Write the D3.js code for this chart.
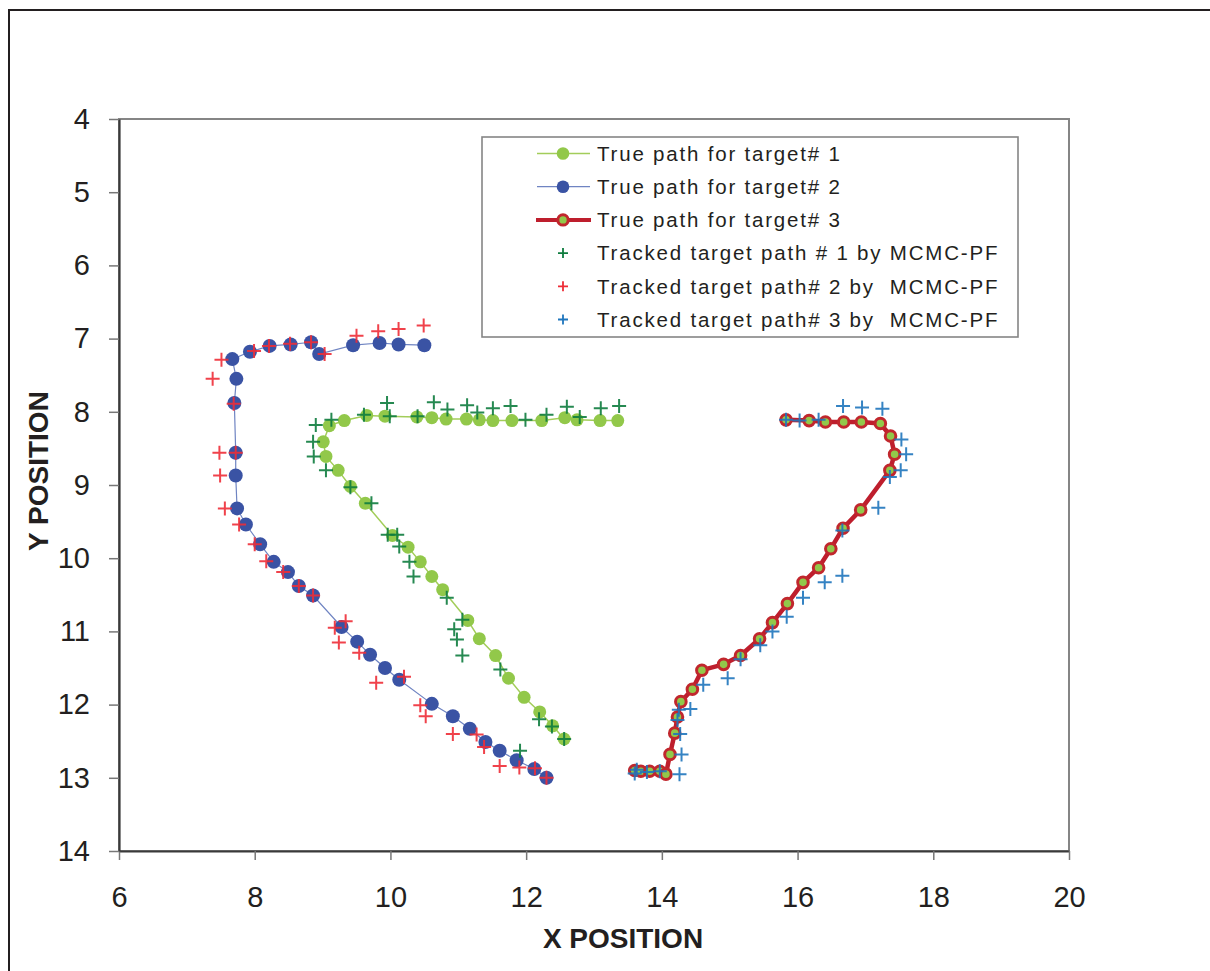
<!DOCTYPE html>
<html>
<head>
<meta charset="utf-8">
<script src="https://cdn.jsdelivr.net/npm/d3@7"></script>
<style>
  html, body { margin: 0; padding: 0; background: #fff; }
  svg { display: block; }
  text { font-family: "Liberation Sans", Arial, Helvetica, sans-serif; fill: #231f20; }
</style>
</head>
<body>
<svg id="chart" width="1210" height="971"></svg>
<script>
// ---------------- data ----------------
const xTicks = [6, 8, 10, 12, 14, 16, 18, 20];
const yTicks = [4, 5, 6, 7, 8, 9, 10, 11, 12, 13, 14];

const legendLabels = [
  "True path for target# 1",
  "True path for target# 2",
  "True path for target# 3",
  "Tracked target path # 1 by MCMC-PF",
  "Tracked target path# 2 by  MCMC-PF",
  "Tracked target path# 3 by  MCMC-PF"
];

const true1X = [13.35,13.09,12.75,12.57,12.23,11.79,11.51,11.31,11.12,10.82,10.61,10.39,9.92,9.65,9.32,9.10,9.01,9.05,9.23,9.41,9.63,10.03,10.26,10.44,10.61,10.77,11.14,11.31,11.55,11.74,11.97,12.20,12.39,12.56];
const true1Y = [8.12,8.12,8.11,8.08,8.12,8.12,8.12,8.11,8.10,8.10,8.08,8.07,8.06,8.05,8.12,8.19,8.41,8.61,8.80,9.02,9.25,9.69,9.85,10.05,10.25,10.43,10.85,11.10,11.33,11.64,11.90,12.10,12.29,12.47];

const true2X = [10.50,10.12,9.84,9.45,8.95,8.83,8.53,8.22,7.93,7.67,7.73,7.70,7.72,7.72,7.74,7.87,8.08,8.28,8.49,8.65,8.86,9.28,9.51,9.70,9.92,10.13,10.61,10.92,11.17,11.40,11.61,11.86,12.12,12.30];
const true2Y = [7.09,7.08,7.06,7.09,7.21,7.05,7.08,7.10,7.18,7.28,7.55,7.88,8.56,8.87,9.32,9.54,9.81,10.05,10.19,10.38,10.51,10.94,11.14,11.32,11.50,11.66,11.99,12.16,12.33,12.51,12.63,12.76,12.88,13.00];

const true3X = [13.60,13.69,13.82,13.97,14.06,14.12,14.19,14.23,14.28,14.45,14.59,14.91,15.16,15.44,15.63,15.85,16.08,16.31,16.49,16.67,16.93,17.36,17.43,17.37,17.22,16.94,16.68,16.41,16.17,15.83];
const true3Y = [12.90,12.91,12.91,12.91,12.95,12.68,12.39,12.17,11.96,11.79,11.53,11.45,11.33,11.10,10.88,10.62,10.33,10.13,9.87,9.59,9.34,8.80,8.58,8.33,8.16,8.14,8.14,8.14,8.12,8.11];

const track1X = [13.37,13.10,12.79,12.60,12.30,11.99,11.77,11.51,11.28,11.13,10.84,10.64,10.40,9.99,9.95,9.61,9.13,8.90,8.86,8.87,9.05,9.41,9.72,9.96,10.10,10.13,10.28,10.34,10.83,11.06,10.94,10.98,11.06,11.62,12.19,12.38,12.56,11.91];
const track1Y = [7.92,7.95,8.07,7.93,8.04,8.11,7.92,7.95,8.01,7.91,7.97,7.87,8.06,8.06,7.88,8.04,8.11,8.18,8.41,8.61,8.80,9.03,9.25,9.68,9.68,9.84,10.05,10.25,10.54,10.84,10.97,11.11,11.33,11.52,12.20,12.30,12.47,12.63];

const track2X = [10.49,10.12,9.82,9.50,9.03,8.83,8.52,8.21,7.99,7.51,7.38,7.69,7.48,7.72,7.49,7.56,7.77,8.00,8.17,8.42,8.65,8.86,9.34,9.18,9.24,9.54,9.79,10.20,10.44,10.52,10.92,11.27,11.38,11.61,11.90,12.13,12.30];
const track2Y = [6.82,6.87,6.90,6.96,7.21,7.05,7.07,7.10,7.17,7.29,7.55,7.89,8.56,8.56,8.87,9.32,9.54,9.81,10.04,10.19,10.38,10.51,10.86,10.95,11.15,11.29,11.70,11.62,12.01,12.16,12.40,12.41,12.58,12.84,12.86,12.87,13.00];

const track3X = [15.83,16.03,16.31,16.67,16.95,17.25,17.53,17.60,17.52,17.36,17.19,16.66,16.66,16.40,16.08,15.84,15.63,15.45,15.16,14.97,14.61,14.42,14.25,14.23,14.27,14.29,14.26,13.97,13.78,13.63,13.60];
const track3Y = [8.11,8.12,8.11,7.92,7.94,7.96,8.38,8.58,8.80,8.89,9.31,9.62,10.24,10.33,10.54,10.80,11.00,11.19,11.38,11.64,11.73,12.06,12.07,12.21,12.40,12.68,12.95,12.91,12.92,12.89,12.94];

// ---------------- drawing ----------------
const svg = d3.select("#chart");
const zip = (xs, ys) => xs.map((v, i) => [v, ys[i]]);

const x = d3.scaleLinear().domain([6, 20]).range([119, 1069]);
const y = d3.scaleLinear().domain([4, 14]).range([119, 851]);

// outer frame
svg.append("rect").attr("x", 9).attr("y", 10).attr("width", 1220).attr("height", 980)
  .attr("fill", "none").attr("stroke", "#231f20").attr("stroke-width", 2);

// plot frame (top/right gray)
svg.append("rect").attr("x", x(6)).attr("y", y(4)).attr("width", x(20) - x(6)).attr("height", y(14) - y(4))
  .attr("fill", "none").attr("stroke", "#858585").attr("stroke-width", 2);

// axes
const xAxis = svg.append("g").attr("transform", `translate(0,${y(14)})`)
  .call(d3.axisBottom(x).tickValues(xTicks).tickSize(9).tickSizeOuter(0).tickPadding(26));
const yAxis = svg.append("g").attr("transform", `translate(${x(6)},0)`)
  .call(d3.axisLeft(y).tickValues(yTicks).tickSize(10).tickSizeOuter(0).tickPadding(19));
[xAxis, yAxis].forEach(g => {
  g.select(".domain").attr("stroke", "#3a3a3a").attr("stroke-width", 2.2);
  g.selectAll(".tick line").attr("stroke", "#777").attr("stroke-width", 1.5);
  g.selectAll(".tick text").style("font-size", "29px").attr("fill", "#231f20")
    .style("font-family", '"Liberation Sans", Arial, sans-serif');
});

// axis titles
svg.append("text").attr("x", 623).attr("y", 948).attr("text-anchor", "middle")
  .style("font-size", "28px").style("font-weight", "bold").text("X POSITION");
svg.append("text").attr("transform", "translate(48,471) rotate(-90)").attr("text-anchor", "middle")
  .style("font-size", "28px").style("font-weight", "bold").text("Y POSITION");

const line = d3.line().x(d => x(d[0])).y(d => y(d[1]));

// series styles
const styles = {
  t1: { line: "#a3cd5a", lw: 1.5, dot: "#92c84a", r: 6.5 },
  t2: { line: "#6f84c2", lw: 1.2, dot: "#3a53a4", r: 7 },
  t3: { line: "#be1e2d", lw: 4.5, dot: "#92c84a", r: 5.3 },
  k1: "#0e7c3e", k2: "#ee2d37", k3: "#1f76bd"
};

// true path 1
const d1 = zip(true1X, true1Y);
svg.append("path").datum(d1).attr("d", line).attr("fill", "none")
  .attr("stroke", styles.t1.line).attr("stroke-width", styles.t1.lw);
svg.append("g").selectAll("circle").data(d1).join("circle")
  .attr("cx", d => x(d[0])).attr("cy", d => y(d[1])).attr("r", styles.t1.r).attr("fill", styles.t1.dot);

// true path 2
const d2 = zip(true2X, true2Y);
svg.append("path").datum(d2).attr("d", line).attr("fill", "none")
  .attr("stroke", styles.t2.line).attr("stroke-width", styles.t2.lw);
svg.append("g").selectAll("circle").data(d2).join("circle")
  .attr("cx", d => x(d[0])).attr("cy", d => y(d[1])).attr("r", styles.t2.r).attr("fill", styles.t2.dot);

// true path 3
const d3p = zip(true3X, true3Y);
svg.append("path").datum(d3p).attr("d", line).attr("fill", "none")
  .attr("stroke", styles.t3.line).attr("stroke-width", styles.t3.lw).attr("stroke-linejoin", "round");
svg.append("g").selectAll("circle").data(d3p).join("circle")
  .attr("cx", d => x(d[0])).attr("cy", d => y(d[1])).attr("r", styles.t3.r)
  .attr("fill", styles.t3.dot).attr("stroke", "#c1272d").attr("stroke-width", 3);

// crosses
function crosses(data, color, half, sw) {
  const grp = svg.append("g");
  grp.selectAll("path").data(data).join("path")
    .attr("d", d => {
      const cx = x(d[0]), cy = y(d[1]);
      return `M${cx - half},${cy}H${cx + half}M${cx},${cy - half}V${cy + half}`;
    })
    .attr("stroke", color).attr("stroke-width", sw).attr("fill", "none").attr("opacity", 0.9);
}
crosses(zip(track1X, track1Y), styles.k1, 7, 2);
crosses(zip(track2X, track2Y), styles.k2, 7, 2);
crosses(zip(track3X, track3Y), styles.k3, 7, 2);

// legend
const lg = svg.append("g");
lg.append("rect").attr("x", 482).attr("y", 137).attr("width", 536).attr("height", 200)
  .attr("fill", "#fff").attr("stroke", "#858585").attr("stroke-width", 1.6);
const rowY = i => 153.5 + i * 33.2;
legendLabels.forEach((lab, i) => {
  const cy = rowY(i);
  if (i === 0) {
    lg.append("line").attr("x1", 537).attr("x2", 590).attr("y1", cy).attr("y2", cy).attr("stroke", styles.t1.line).attr("stroke-width", 1.5);
    lg.append("circle").attr("cx", 563).attr("cy", cy).attr("r", 6.3).attr("fill", styles.t1.dot);
  } else if (i === 1) {
    lg.append("line").attr("x1", 537).attr("x2", 590).attr("y1", cy).attr("y2", cy).attr("stroke", styles.t2.line).attr("stroke-width", 1.2);
    lg.append("circle").attr("cx", 563).attr("cy", cy).attr("r", 6.3).attr("fill", styles.t2.dot);
  } else if (i === 2) {
    lg.append("line").attr("x1", 536).attr("x2", 591).attr("y1", cy).attr("y2", cy).attr("stroke", styles.t3.line).attr("stroke-width", 4);
    lg.append("circle").attr("cx", 563).attr("cy", cy).attr("r", 5.2).attr("fill", styles.t3.dot).attr("stroke", "#c1272d").attr("stroke-width", 3);
  } else {
    const col = [styles.k1, styles.k2, styles.k3][i - 3];
    lg.append("path").attr("d", `M${558},${cy}H${568}M${563},${cy - 5}V${cy + 5}`)
      .attr("stroke", col).attr("stroke-width", 1.8);
  }
  lg.append("text").attr("x", 597).attr("y", cy).attr("dy", "0.36em")
    .style("font-size", "20.5px").style("letter-spacing", "1.8px").style("white-space", "pre")
    .text(lab);
});
</script>
</body>
</html>
